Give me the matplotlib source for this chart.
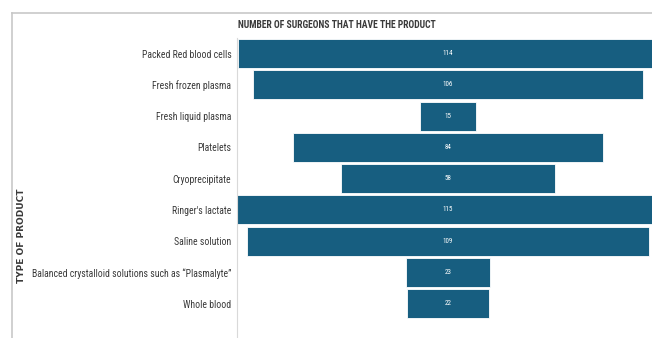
import matplotlib.pyplot as plt
from matplotlib.lines import Line2D

# data
products = ["Packed Red blood cells", "Fresh frozen plasma", "Fresh liquid plasma",
            "Platelets", "Cryoprecipitate", "Ringer's lactate", "Saline solution",
            "Balanced crystalloid solutions such as \u201cPlasmalyte\u201d", "Whole blood"]
surgeons = [114, 106, 15, 84, 58, 115, 109, 23, 22]

bar_color = '#175e80'
text_color = '#3a3a3a'
narrow = ['Roboto Condensed', 'Liberation Sans Narrow', 'Roboto', 'DejaVu Sans']

W, H = 652, 338
fig = plt.figure(figsize=(W / 100, H / 100), dpi=100)

# axes spans from the product column to the clipped right edge
ax = fig.add_axes([237 / W, 0, (W - 237) / W, (H - 38) / H])

ypos = list(range(len(products)))
lefts = [-v / 2 for v in surgeons]
bars = ax.barh(ypos, surgeons, left=lefts, height=0.93, color=bar_color,
               edgecolor='white', linewidth=0.6)
for y, v in zip(ypos, surgeons):
    ax.text(0, y, str(v), ha='center', va='center', color='white',
            fontsize=5, family=narrow)

ax.set_xlim(-57.3, 55.4)
ax.set_ylim(9.1, -0.5)
ax.set_yticks(ypos)
ax.set_yticklabels(products, fontsize=8, color=text_color, family=narrow)
ax.tick_params(axis='y', length=0, pad=4)
ax.set_xticks([])
for s in ['top', 'right', 'bottom']:
    ax.spines[s].set_visible(False)
ax.spines['left'].set_color('#d9d9d9')
ax.spines['left'].set_linewidth(0.8)

# title and axis label
title = fig.text(238 / W, 1 - 25 / H, "NUMBER OF SURGEONS THAT HAVE THE PRODUCT",
                 ha='left', va='center', fontsize=8, fontweight='bold',
                 color=text_color, family=narrow)
fig.text(22 / W, 1 - 236 / H, "TYPE OF PRODUCT", rotation=90,
         ha='center', va='center', fontsize=6.5, fontweight='bold',
         color=text_color, family='DejaVu Sans')

# the reference uses a condensed face; shrink text to the same widths
renderer = fig.canvas.get_renderer()
w = title.get_window_extent(renderer).width
title.set_fontsize(min(8.5, 8 * 200 / w))
labels = ax.get_yticklabels()
w = max(t.get_window_extent(renderer).width for t in labels)
size = min(8.5, 8 * 200 / w)
for t in labels:
    t.set_fontsize(size)

# outer frame (top and left edges only visible)
fig.add_artist(Line2D([12 / W, 1], [1 - 13 / H, 1 - 13 / H],
                      color='#c8c8c8', linewidth=1.2))
fig.add_artist(Line2D([12 / W, 12 / W], [0, 1 - 13 / H],
                      color='#c8c8c8', linewidth=1.2))

fig.savefig('out.png', dpi=100)
